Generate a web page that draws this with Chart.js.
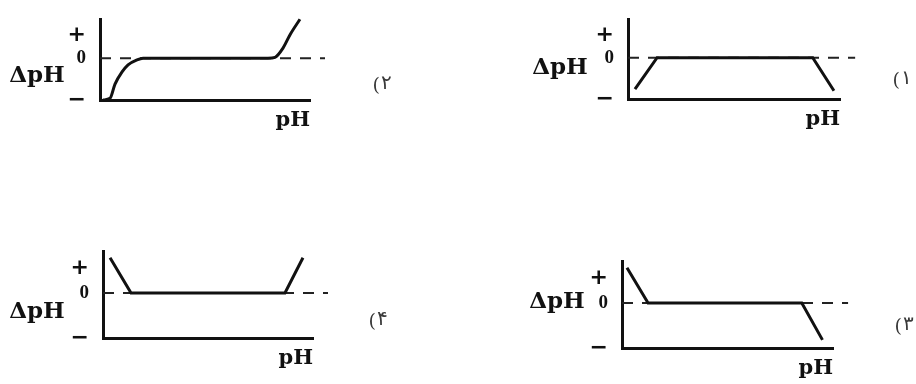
<!DOCTYPE html>
<html>
<head>
<meta charset="utf-8">
<script src="https://cdn.jsdelivr.net/npm/chart.js@4"></script>
<style>
    body { margin: 0; background: #fff; }
    .wrap { position: relative; width: 916px; height: 384px; overflow: hidden; }
    .wrap canvas { position: absolute; }
</style>
</head>
<body>
<div class="wrap">
    <canvas id="c2" width="458" height="192" style="left:0;top:0"></canvas>
    <canvas id="c1" width="458" height="192" style="left:458px;top:0"></canvas>
    <canvas id="c4" width="458" height="192" style="left:0;top:192px"></canvas>
    <canvas id="c3" width="458" height="192" style="left:458px;top:192px"></canvas>
</div>
<script>
// data (pH on 0..14, deltaPH on -1..+1)
var yTickValues = [-1, 0, 0.55];
var yTickLabels = ['\u2212', '0', '+'];
var refLineX = [0, 15];
var refLineY = [0, 0];

var curve1X = [0.46, 1.92, 12.2, 13.6];
var curve1Y = [-0.76, 0, 0, -0.8];

var curve2X = [0.2, 0.67, 1.0, 1.47, 1.87, 2.47, 2.87, 11.2, 11.67, 12.2, 12.67, 13.33];
var curve2Y = [-1, -0.96, -0.62, -0.33, -0.16, -0.04, 0, 0, 0.02, 0.24, 0.56, 0.93];

var curve3X = [0.33, 1.73, 11.93, 13.3];
var curve3Y = [0.78, 0, 0, -0.82];

var curve4X = [0.47, 1.87, 12.13, 13.33];
var curve4Y = [0.78, 0, 0, 0.78];

var panelDigits = ['\u06F1', '\u06F2', '\u06F3', '\u06F4'];

// panel boxes: canvas origin + axis box in page pixels
var panels = [
    { id: 'c1', ox: 458, oy: 0,   L: 628, R: 840, T: 12,  B: 99,  xs: curve1X, ys: curve1Y, smooth: false, digit: panelDigits[0], dl: [-68, 10], nl: [62, 23] },
    { id: 'c2', ox: 0,   oy: 0,   L: 100, R: 310, T: 13,  B: 100, xs: curve2X, ys: curve2Y, smooth: true,  digit: panelDigits[1], dl: [-63, 18], nl: [72, 28] },
    { id: 'c3', ox: 458, oy: 192, L: 622, R: 833, T: 261, B: 348, xs: curve3X, ys: curve3Y, smooth: false, digit: panelDigits[2], dl: [-65, -1], nl: [71, 24] },
    { id: 'c4', ox: 0,   oy: 192, L: 103, R: 313, T: 251, B: 338, xs: curve4X, ys: curve4Y, smooth: false, digit: panelDigits[3], dl: [-66, 19], nl: [65, 29] }
];

var Y_AXIS_W = 40;
var X_AXIS_H = 33;

function toPoints(xs, ys) {
    return xs.map(function (x, i) { return { x: x, y: ys[i] }; });
}

// draws the ΔpH label and the option number
var sideLabels = {
    id: 'sideLabels',
    afterDraw: function (chart, args, opts) {
        var ctx = chart.ctx;
        var area = chart.chartArea;
        var zero = chart.scales.y.getPixelForValue(0);
        var nx = area.right + opts.nl[0];
        var ny = zero + opts.nl[1];
        ctx.save();
        ctx.direction = 'ltr';
        ctx.fillStyle = '#111';
        ctx.textAlign = 'center';
        ctx.textBaseline = 'middle';
        ctx.font = 'bold 23px "DejaVu Serif"';
        ctx.fillText('\u0394pH', area.left + opts.dl[0], zero + opts.dl[1]);
        // "(" and digit drawn separately so bidi can't reorder them
        ctx.fillStyle = '#3a3a3a';
        ctx.font = '19px "DejaVu Serif"';
        ctx.textAlign = 'right';
        ctx.fillText('(', nx - 2, ny);
        ctx.font = '20px "DejaVu Sans"';
        ctx.textAlign = 'left';
        ctx.fillText(opts.digit, nx - 1, ny - 2);
        ctx.restore();
    }
};

panels.forEach(function (p) {
    new Chart(document.getElementById(p.id), {
        type: 'line',
        data: {
            datasets: [
                {
                    data: toPoints(p.xs, p.ys),
                    borderColor: '#111',
                    borderWidth: 3,
                    pointRadius: 0,
                    fill: false,
                    clip: false,
                    cubicInterpolationMode: p.smooth ? 'monotone' : 'default',
                    tension: 0
                },
                {
                    data: toPoints(refLineX, refLineY),
                    borderColor: '#222',
                    borderWidth: 2,
                    borderDash: [11, 9],
                    pointRadius: 0,
                    fill: false,
                    clip: false
                }
            ]
        },
        options: {
            responsive: false,
            animation: false,
            devicePixelRatio: 1,
            layout: {
                padding: {
                    left: p.L - p.ox - Y_AXIS_W,
                    right: p.ox + 458 - p.R,
                    top: p.T - p.oy,
                    bottom: p.oy + 192 - p.B - X_AXIS_H
                }
            },
            plugins: {
                legend: { display: false },
                tooltip: { enabled: false },
                sideLabels: { dl: p.dl, nl: p.nl, digit: p.digit }
            },
            scales: {
                x: {
                    type: 'linear',
                    min: 0,
                    max: 14,
                    grid: { display: false },
                    border: { display: true, color: '#111', width: 3 },
                    ticks: { display: false },
                    title: {
                        display: true,
                        text: 'pH',
                        align: 'end',
                        color: '#111',
                        padding: 0,
                        font: { family: 'DejaVu Serif', weight: 'bold', size: 21 }
                    },
                    afterFit: function (scale) { scale.height = X_AXIS_H; }
                },
                y: {
                    type: 'linear',
                    min: -1,
                    max: 0.93,
                    grid: { display: false },
                    border: { display: true, color: '#111', width: 3 },
                    afterBuildTicks: function (scale) {
                        scale.ticks = yTickValues.map(function (v) { return { value: v }; });
                    },
                    ticks: {
                        color: '#111',
                        padding: 6,
                        autoSkip: false,
                        font: function (ctx) {
                            // heavy sans for the signs, serif for the zero
                            if (ctx.tick && ctx.tick.value !== 0) {
                                return { family: 'DejaVu Sans', weight: 'bold', size: 22 };
                            }
                            return { family: 'Liberation Serif', weight: 'bold', size: 19 };
                        },
                        callback: function (value) {
                            var i = yTickValues.indexOf(value);
                            return i >= 0 ? yTickLabels[i] : '';
                        }
                    },
                    afterFit: function (scale) { scale.width = Y_AXIS_W; }
                }
            }
        },
        plugins: [sideLabels]
    });
});
</script>
</body>
</html>
